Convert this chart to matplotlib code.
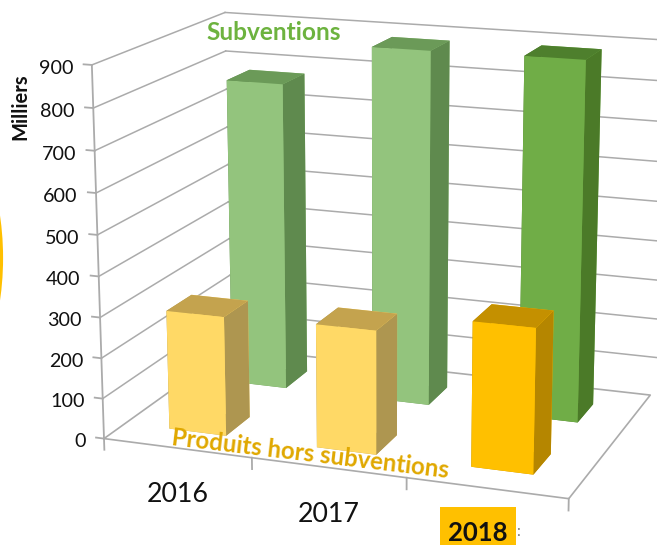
import numpy as np, matplotlib
matplotlib.use('Agg')
import matplotlib.pyplot as plt
from matplotlib.patches import Arc, Rectangle
from matplotlib.transforms import IdentityTransform
from mpl_toolkits.mplot3d import proj3d

plt.rcParams['font.family'] = ['Lato', 'DejaVu Sans']

years = ['2016', '2017', '2018']
produits = [295, 302, 349]
subventions = [780, 887, 890]
z_ticks = [0, 100, 200, 300, 400, 500, 600, 700, 800, 900]

# face colours for -z, +z, -y, +y, -x, +x
def faces(front, top, side):
    return [top, top, front, front, side, side]
col_prod = [faces('#FFD966', '#C4A34E', '#AE9650'), faces('#FFD966', '#C4A34E', '#AE9650'), faces('#FFC000', '#C49000', '#B58600')]
col_subv = [faces('#93C47D', '#6B9A58', '#5F8A4E'), faces('#93C47D', '#6B9A58', '#5F8A4E'), faces('#70AD47', '#4E7F2D', '#4B7A28')]

W, H = 657, 545
fig = plt.figure(figsize=(W/100, H/100), dpi=100)
ax = fig.add_subplot(projection='3d', computed_zorder=False)
ax.set_xlim(0, 3, view_margin=0); ax.set_ylim(0, 1, view_margin=0); ax.set_zlim(0, 900, view_margin=0)
ax.view_init(elev=15.07, azim=-70.06)
ax.set_proj_type('persp', focal_length=float(np.exp(-0.4148)))
ax.set_box_aspect((np.exp(0.4158), 1, np.exp(0.1782)))
a, cx, cy = 3599.07, 384.39, 237.88
side = a*0.1

def place(side, cx, cy_up):
    ax.set_position([(cx-side/2)/W, (cy_up-side/2)/H, side/W, side/H])
    ax.apply_aspect()

place(side, cx, H-cy)
p0 = ax.transData.transform((0, 0)); p1 = ax.transData.transform((0.01, 0))
side *= a/((p1[0]-p0[0])/0.01)
place(side, cx, H-cy)
p0 = ax.transData.transform((0, 0))
place(side, cx+(cx-p0[0]), (H-cy)+((H-cy)-p0[1]))
ax.set_axis_off()

def T(x, y, s, **kw):
    return fig.text(x/W, 1-y/H, s, ha=kw.pop('ha', 'center'), va=kw.pop('va', 'center'), **kw)

M = ax.get_proj()
GRID = '#ABABAB'
for z in z_ticks[1:]:
    ax.plot([0, 0], [0, 1], [z, z], color=GRID, lw=1.1, zorder=1)
    ax.plot([0, 3.05], [1, 1], [z, z], color=GRID, lw=1.1, zorder=1)
for z in z_ticks:
    ax.plot([-0.055, 0], [0, 0], [z, z], color=GRID, lw=1.3, zorder=1)
    u, v, _ = proj3d.proj_transform(-0.125, 0, z, M)
    px, py = ax.transData.transform((float(u), float(v)))
    T(px, H-py+5, str(z), ha='right', fontsize=14.2, color='#111111')
ax.plot([0, 0], [0, 0], [0, 900], color=GRID, lw=1.3, zorder=1)
ax.plot([0, 3, 3, 0, 0], [0, 0, 1, 1, 0], [0, 0, 0, 0, 0], color=GRID, lw=1.2, zorder=1)
for i in range(4):
    ax.plot([i, i], [0, 0], [0, -28], color=GRID, lw=1.3, zorder=1)

bw, bd = 0.39, 0.19
for i, v in enumerate(subventions):
    ax.bar3d(i+0.5-bw/2, 0.75-bd/2, 0, bw, bd, v, color=col_subv[i], shade=False, zorder=2+i)
for i, v in enumerate(produits):
    ax.bar3d(i+0.5-bw/2, 0.25-bd/2, 0, bw, bd, v, color=col_prod[i], shade=False, zorder=6+i)
for art in ax.get_children():
    art.set_clip_on(False)

T(20, 107, 'Milliers', rotation=90, fontsize=14.5, fontweight='bold', color='#111111')
T(274, 33, 'Subventions', fontsize=17.6, fontweight='bold', color='#6DB33F')
T(310, 454, 'Produits hors subventions', rotation=-6.8, rotation_mode='anchor', fontsize=17.3, fontweight='bold', color='#E0A800')
T(178, 495, years[0], fontsize=19.3, color='#111111')
T(329, 514, years[1], fontsize=19.3, color='#111111')
fig.add_artist(Rectangle((440/W, 0), 76/W, 38/H, transform=fig.transFigure, fc='#FFC000', ec='none', zorder=3))
T(478, 533, years[2], fontsize=18.5, fontweight='bold', color='#111111', zorder=4)
T(518, 532, ':', fontsize=11, color='#777777')
fig.add_artist(Arc((1-295, H-258), 590, 590, theta1=-10, theta2=10, transform=IdentityTransform(), color='#FFC000', lw=3))

fig.savefig('out.png', dpi=100)
